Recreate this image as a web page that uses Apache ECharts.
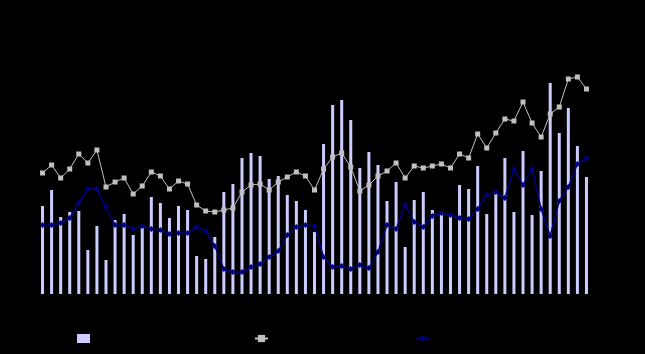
<!DOCTYPE html>
<html>
<head>
<meta charset="utf-8">
<script src="https://cdn.jsdelivr.net/npm/echarts@6/dist/echarts.min.js"></script>
<style>
  html, body { margin: 0; padding: 0; background: #000; }
  #chart { width: 645px; height: 354px; }
</style>
</head>
<body>
<div id="chart"></div>
<script>
// periods (labels are drawn black on black in the original)
const categories = [
  'P1', 'P2', 'P3', 'P4', 'P5', 'P6', 'P7', 'P8', 'P9', 'P10',
  'P11', 'P12', 'P13', 'P14', 'P15', 'P16', 'P17', 'P18', 'P19', 'P20',
  'P21', 'P22', 'P23', 'P24', 'P25', 'P26', 'P27', 'P28', 'P29', 'P30',
  'P31', 'P32', 'P33', 'P34', 'P35', 'P36', 'P37', 'P38', 'P39', 'P40',
  'P41', 'P42', 'P43', 'P44', 'P45', 'P46', 'P47', 'P48', 'P49', 'P50',
  'P51', 'P52', 'P53', 'P54', 'P55', 'P56', 'P57', 'P58', 'P59', 'P60',
  'P61'
];

const barValues = [
  88, 104, 77, 82, 83, 44, 68, 34, 74, 80,
  59, 66, 97, 91, 76, 88, 84, 38, 35, 57,
  102, 110, 136, 141, 138, 115, 118, 99, 93, 84,
  62, 150, 189, 194, 174, 126, 142, 129, 93, 112,
  47, 94, 102, 84, 83, 79, 109, 105, 128, 80,
  100, 136, 82, 143, 79, 123, 211, 161, 186, 148,
  117
];

const grayValues = [
  121, 129, 116, 125, 140, 131, 144, 107, 112, 116,
  100, 108, 122, 118, 105, 113, 110, 89, 83, 82,
  84, 86, 102, 109, 110, 104, 112, 117, 122, 118,
  104, 125, 137, 141, 127, 103, 109, 118, 123, 131,
  116, 128, 126, 128, 130, 126, 140, 136, 160, 146,
  161, 175, 173, 192, 171, 157, 180, 187, 215, 217,
  205
];

const navyValues = [
  69, 69, 71, 76, 91, 105, 105, 87, 69, 69,
  65, 68, 65, 64, 60, 61, 61, 67, 63, 48,
  25, 22, 22, 27, 30, 37, 43, 59, 67, 69,
  68, 37, 27, 28, 25, 29, 26, 42, 69, 65,
  89, 72, 67, 78, 81, 79, 76, 75, 85, 99,
  102, 96, 125, 109, 125, 85, 58, 93, 107, 130,
  136
];

const seriesNames = ['Series 1', 'Series 2', 'Series 3'];

const chart = echarts.init(document.getElementById('chart'), null, { renderer: 'canvas' });

const legendBase = {
  top: 328,
  itemWidth: 13,
  itemHeight: 9,
  textStyle: { color: '#000', fontSize: 11 }
};

const option = {
  backgroundColor: '#000',
  animation: false,
  grid: { left: 38, right: 54, top: 54, bottom: 60, containLabel: false },
  legend: [
    Object.assign({}, legendBase, { left: 72, data: [{ name: seriesNames[0], icon: 'rect' }] }),
    Object.assign({}, legendBase, { left: 249, data: [seriesNames[1]] }),
    Object.assign({}, legendBase, { left: 410, data: [seriesNames[2]] })
  ],
  xAxis: {
    type: 'category',
    data: categories,
    axisLine: { show: false },
    axisTick: { show: false },
    axisLabel: { color: '#000' }
  },
  yAxis: {
    type: 'value',
    min: 0,
    max: 240,
    interval: 40,
    axisLine: { show: false },
    axisTick: { show: false },
    splitLine: { show: false },
    axisLabel: { color: '#000' }
  },
  series: [
    {
      name: seriesNames[0],
      type: 'bar',
      data: barValues,
      barWidth: 3,
      itemStyle: { color: '#ccccff' }
    },
    {
      name: seriesNames[1],
      type: 'line',
      data: grayValues,
      symbol: 'rect',
      symbolSize: 5,
      lineStyle: { color: '#c0c0c0', width: 1 },
      itemStyle: { color: '#c0c0c0' }
    },
    {
      name: seriesNames[2],
      type: 'line',
      data: navyValues,
      symbol: 'diamond',
      symbolSize: 6,
      lineStyle: { color: '#000080', width: 1.5 },
      itemStyle: { color: '#000080' }
    }
  ]
};

chart.setOption(option);
</script>
</body>
</html>
